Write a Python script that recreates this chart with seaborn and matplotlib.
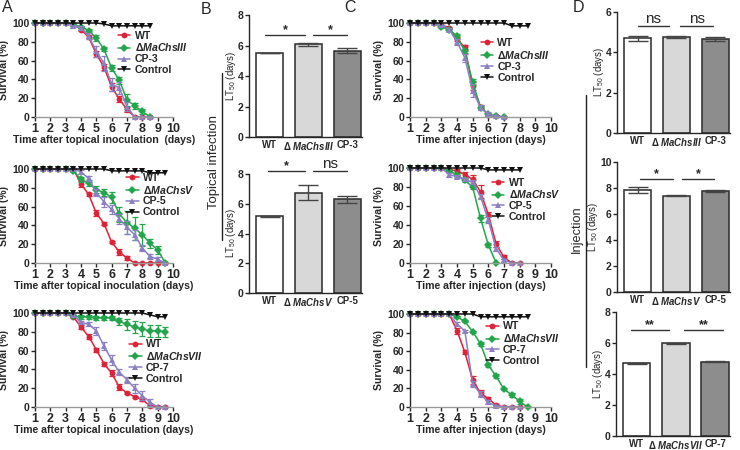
import numpy as np
import pandas as pd
import matplotlib
matplotlib.use("Agg")
import matplotlib.pyplot as plt
from matplotlib.lines import Line2D
import seaborn as sns

# ---- survival data (percent), one value every half day from day 1 ----
t_topical = [1.0, 1.5, 2.0, 2.5, 3.0, 3.5, 4.0, 4.5, 5.0, 5.5, 6.0, 6.5, 7.0, 7.5, 8.0, 8.5, 9.0, 9.5]
t_inject = [1.0, 1.5, 2.0, 2.5, 3.0, 3.5, 4.0, 4.5, 5.0, 5.5, 6.0, 6.5, 7.0, 7.5, 8.0, 8.5]

# topical, ChsIII
a1_wt = [100, 100, 100, 100, 100, 99, 93, 85, 67, 53, 32, 19, 8, 0, 0, 0]
a1_mut = [100, 100, 100, 100, 100, 98, 96, 92, 84, 72, 52, 39, 18, 12, 6, 0]
a1_cp = [100, 100, 100, 100, 100, 97, 95, 86, 70, 57, 35, 31, 11, 0, 0, 0]
a1_ctrl = [100, 100, 100, 100, 100, 100, 100, 100, 100, 99, 97, 97, 97, 97, 97, 97]
a1_wt_se = [0, 0, 0, 0, 0, 1, 2, 2, 3, 3, 4, 3, 3, 0, 0, 0]
a1_mut_se = [0, 0, 0, 0, 0, 1, 1, 2, 3, 2, 3, 4, 6, 3, 3, 0]
a1_cp_se = [0, 0, 0, 0, 0, 1, 2, 3, 6, 8, 7, 6, 5, 0, 0, 0]

# topical, ChsV
a2_wt = [100, 100, 100, 100, 100, 100, 84, 73, 53, 42, 22, 12, 5, 0, 0, 0, 0, 0]
a2_mut = [100, 100, 100, 100, 100, 98, 89, 85, 78, 75, 70, 52, 43, 37, 30, 21, 14, 0]
a2_cp = [100, 100, 100, 100, 100, 100, 97, 90, 75, 65, 57, 47, 38, 30, 16, 7, 4, 0]
a2_ctrl = [100, 100, 100, 100, 100, 100, 100, 100, 100, 100, 98, 98, 98, 98, 98, 96, 96, 96]
a2_wt_se = [0, 0, 0, 0, 0, 0, 3, 2, 3, 2, 1, 3, 2, 0, 0, 0, 0, 0]
a2_mut_se = [0, 0, 0, 0, 0, 1, 3, 3, 4, 4, 6, 8, 12, 12, 12, 5, 4, 0]
a2_cp_se = [0, 0, 0, 0, 0, 1, 2, 3, 4, 5, 5, 5, 7, 5, 3, 3, 2, 0]

# topical, ChsVII
a3_wt = [100, 100, 100, 100, 100, 96, 85, 75, 61, 46, 36, 21, 15, 11, 8, 1, 0, 0]
a3_mut = [100, 100, 100, 100, 100, 97, 96, 96, 95, 95, 95, 91, 88, 85, 83, 81, 81, 80]
a3_cp = [100, 100, 100, 100, 100, 98, 90, 88, 81, 65, 50, 37, 29, 20, 12, 5, 0, 0]
a3_ctrl = [100, 100, 100, 100, 100, 100, 100, 100, 100, 100, 100, 100, 100, 100, 100, 98, 96, 96]
a3_wt_se = [0, 0, 0, 0, 0, 1, 2, 3, 2, 2, 3, 3, 1, 1, 2, 1, 0, 0]
a3_mut_se = [0, 0, 0, 0, 0, 1, 2, 2, 2, 2, 2, 4, 6, 6, 7, 6, 6, 5]
a3_cp_se = [0, 0, 0, 0, 0, 1, 2, 2, 4, 4, 5, 3, 3, 5, 5, 4, 0, 0]

# injection, ChsIII
c1_wt = [100, 100, 100, 100, 98, 95, 83, 74, 33, 11, 2, 1, 0]
c1_mut = [100, 100, 100, 100, 96, 93, 86, 70, 37, 10, 3, 1, 0]
c1_cp = [100, 100, 100, 100, 98, 93, 80, 63, 28, 10, 3, 1, 0]
c1_ctrl = [100, 100, 100, 100, 100, 100, 100, 100, 100, 100, 100, 100, 100, 97, 97, 97]
c1_wt_se = [0, 0, 0, 0, 0, 1, 2, 3, 4, 2, 1, 0, 0]
c1_mut_se = [0, 0, 0, 0, 1, 2, 2, 2, 3, 2, 1, 0, 0]
c1_cp_se = [0, 0, 0, 0, 0, 2, 3, 4, 7, 3, 2, 0, 0]

# injection, ChsV
c2_wt = [100, 100, 100, 100, 100, 98, 97, 93, 88, 75, 51, 20, 6, 0, 0]
c2_mut = [100, 100, 100, 100, 100, 97, 93, 87, 80, 47, 19, 0]
c2_cp = [100, 100, 100, 100, 100, 93, 91, 88, 85, 70, 45, 15, 3, 0, 0]
c2_ctrl = [100, 100, 100, 100, 100, 100, 100, 100, 100, 100, 98, 98, 98, 98, 98]
c2_wt_se = [0, 0, 0, 0, 0, 1, 2, 3, 5, 7, 3, 3, 2, 0, 0]
c2_mut_se = [0, 0, 0, 0, 0, 1, 2, 2, 2, 4, 2, 0]
c2_cp_se = [0, 0, 0, 0, 0, 2, 2, 2, 2, 3, 3, 2, 1, 0, 0]

# injection, ChsVII
c3_wt = [100, 100, 100, 100, 100, 100, 82, 59, 29, 15, 9, 2, 0, 0, 0]
c3_mut = [100, 100, 100, 100, 100, 100, 97, 92, 81, 68, 45, 33, 19, 13, 6, 0]
c3_cp = [100, 100, 100, 100, 100, 100, 89, 82, 25, 14, 5, 1, 0, 0, 0]
c3_ctrl = [100, 100, 100, 100, 100, 100, 100, 100, 100, 97, 97, 97, 97, 97, 97, 97]
c3_wt_se = [0, 0, 0, 0, 0, 0, 3, 2, 4, 3, 2, 1, 0, 0, 0]
c3_mut_se = [0, 0, 0, 0, 0, 0, 1, 1, 1, 2, 2, 2, 1, 2, 3, 0]
c3_cp_se = [0, 0, 0, 0, 0, 0, 2, 1, 3, 3, 2, 1, 0, 0, 0]

# ---- LT50 (days) ----
lt_topical_III = [5.5, 6.07, 5.67]
lt_topical_III_se = [0.02, 0.08, 0.15]
lt_topical_V = [5.15, 6.75, 6.3]
lt_topical_V_se = [0.06, 0.5, 0.25]
lt_inject_III = [4.7, 4.78, 4.66]
lt_inject_III_se = [0.13, 0.05, 0.08]
lt_inject_V = [7.85, 7.42, 7.8]
lt_inject_V_se = [0.2, 0.03, 0.08]
lt_inject_VII = [4.68, 5.97, 4.8]
lt_inject_VII_se = [0.05, 0.01, 0.02]

# ---- style ----
sns.set_theme(style="ticks")
plt.rcParams["font.family"] = ["Liberation Sans", "DejaVu Sans"]
plt.rcParams["font.weight"] = "bold"
plt.rcParams["axes.labelweight"] = "bold"
plt.rcParams["mathtext.fontset"] = "custom"
plt.rcParams["mathtext.it"] = "Liberation Sans:italic:bold"
plt.rcParams["mathtext.rm"] = "Liberation Sans:bold"
plt.rcParams["axes.linewidth"] = 1.0
plt.rcParams["xtick.major.size"] = 3
plt.rcParams["ytick.major.size"] = 3

RED, GREEN, PURPLE, BLACK = "#dc2338", "#23a64b", "#8c7fc2", "#111111"
BAR_COLORS = ["#ffffff", "#d8d8d8", "#8d8d8d"]

W, H = 740, 450
fig = plt.figure(figsize=(W / 100, H / 100), dpi=100)


def rect(l, r, t, b):
    return [l / W, 1 - b / H, (r - l) / W, (b - t) / H]


def mut(gene):
    return "Δ$\\mathit{MaChs" + gene + "}$"


def survival(box, t, series, xlabel, leg_xy):
    ax = fig.add_axes(rect(*box))
    for lab, vals, se, col, mk in series:
        x = t[:len(vals)]
        sns.lineplot(x=x, y=vals, ax=ax, color=col, marker=mk, markersize=4.2,
                     markeredgewidth=0, linewidth=1.1, label=lab, clip_on=False,
                     errorbar=None)
        if se is not None:
            ax.errorbar(x, vals, yerr=se, fmt="none", ecolor=col, elinewidth=0.9,
                        capsize=2, capthick=0.9, clip_on=False)
    ax.set_xlim(1, 10)
    ax.set_ylim(0, 100)
    ax.set_xticks(range(1, 11))
    ax.set_yticks(range(0, 101, 20))
    ax.tick_params(axis="x", labelsize=9, pad=1, width=1)
    ax.tick_params(axis="y", labelsize=7.5, pad=1, width=1)
    ax.set_xlabel(xlabel, fontsize=7.6, labelpad=0)
    ax.set_ylabel("Survival (%)", fontsize=7.6, labelpad=2)
    sns.despine(ax=ax)
    ax.spines["bottom"].set_color("#9a9a9a")
    ax.legend(loc="upper left", bbox_to_anchor=leg_xy, frameon=False, fontsize=7.6,
              handlelength=1.2, handletextpad=0.4, labelspacing=0.08,
              borderpad=0, borderaxespad=0)
    return ax


def lt50(box, gene, vals, se, ymax, ystep, sigs):
    ax = fig.add_axes(rect(*box))
    cp = "CP-" + {"III": "3", "V": "5", "VII": "7"}[gene]
    labels = ["WT", "Δ $\\mathit{MaChs" + gene + "}$", cp]
    sns.barplot(x=labels, y=vals, hue=labels, palette=BAR_COLORS, legend=False,
                edgecolor="#2a2a2a", linewidth=1.1, width=0.7, ax=ax)
    ax.errorbar(range(3), vals, yerr=se, fmt="none", ecolor="#444444", elinewidth=1,
                capsize=7, capthick=1)
    ax.set_xlim(-0.53, 2.38)
    ax.set_ylim(0, ymax)
    ax.set_yticks(np.arange(0, ymax + 0.1, ystep))
    ax.tick_params(axis="x", labelsize=6.9, pad=2, length=0)
    ax.tick_params(axis="y", labelsize=7.5, pad=1, width=1)
    ax.set_ylabel("LT$\\mathregular{_{50}}$ (days)", fontsize=6.9, fontweight="normal", labelpad=0)
    ax.set_xlabel("")
    sns.despine(ax=ax)
    for x0, x1, y, txt in sigs:
        ax.plot([x0, x1], [y, y], color="#333333", lw=1, clip_on=False)
        if txt == "ns":
            ax.text((x0 + x1) / 2, y, txt, ha="center", va="bottom", fontsize=11,
                    fontweight="normal")
        else:
            ax.text((x0 + x1) / 2, y - ymax * 0.01, txt, ha="center", va="bottom",
                    fontsize=9, fontweight="bold")
    return ax


def leg(g):
    return ["WT", mut(g), "CP-" + {"III": "3", "V": "5", "VII": "7"}[g], "Control"]


# ---- A: topical survival ----
l = leg("III")
survival((35, 173, 23, 117), t_topical,
         [(l[0], a1_wt, a1_wt_se, RED, "o"), (l[1], a1_mut, a1_mut_se, GREEN, "D"),
          (l[2], a1_cp, a1_cp_se, PURPLE, "^"), (l[3], a1_ctrl, None, BLACK, "v")],
         "Time after topical inoculation  (days)", (0.6, 0.92))
l = leg("V")
survival((35, 173, 169, 263), t_topical,
         [(l[0], a2_wt, a2_wt_se, RED, "o"), (l[1], a2_mut, a2_mut_se, GREEN, "D"),
          (l[2], a2_cp, a2_cp_se, PURPLE, "^"), (l[3], a2_ctrl, None, BLACK, "v")],
         "Time after topical inoculation (days)", (0.66, 0.96))
l = leg("VII")
survival((35, 173, 313, 407), t_topical,
         [(l[0], a3_wt, a3_wt_se, RED, "o"), (l[1], a3_mut, a3_mut_se, GREEN, "D"),
          (l[2], a3_cp, a3_cp_se, PURPLE, "^"), (l[3], a3_ctrl, None, BLACK, "v")],
         "Time after topical inoculation (days)", (0.68, 0.72))

# ---- C: injection survival ----
l = leg("III")
survival((410, 551, 23, 117), t_inject,
         [(l[0], c1_wt, c1_wt_se, RED, "o"), (l[1], c1_mut, c1_mut_se, GREEN, "D"),
          (l[2], c1_cp, c1_cp_se, PURPLE, "^"), (l[3], c1_ctrl, None, BLACK, "v")],
         "Time after injection (days)", (0.5, 0.84))
l = leg("V")
survival((410, 551, 168, 263), t_inject,
         [(l[0], c2_wt, c2_wt_se, RED, "o"), (l[1], c2_mut, c2_mut_se, GREEN, "D"),
          (l[2], c2_cp, c2_cp_se, PURPLE, "^"), (l[3], c2_ctrl, None, BLACK, "v")],
         "Time after injection (days)", (0.58, 0.9))
l = leg("VII")
survival((410, 551, 314, 407), t_inject,
         [(l[0], c3_wt, c3_wt_se, RED, "o"), (l[1], c3_mut, c3_mut_se, GREEN, "D"),
          (l[2], c3_cp, c3_cp_se, PURPLE, "^"), (l[3], c3_ctrl, None, BLACK, "v")],
         "Time after injection (days)", (0.54, 0.92))

# ---- B: topical LT50 ----
lt50((249, 362, 15, 137), "III", lt_topical_III, lt_topical_III_se, 8, 2,
     [(-0.12, 0.92, 6.7, "*"), (1.12, 2.0, 6.7, "*")])
lt50((249, 362, 174, 293), "V", lt_topical_V, lt_topical_V_se, 8, 2,
     [(-0.05, 0.92, 8.2, "*"), (1.12, 2.0, 8.2, "ns")])

# ---- D: injection LT50 ----
lt50((617, 730, 12, 133), "III", lt_inject_III, lt_inject_III_se, 6, 2,
     [(0.0, 0.82, 5.3, "ns"), (1.1, 1.95, 5.3, "ns")])
lt50((617, 730, 162, 292), "V", lt_inject_V, lt_inject_V_se, 10, 2,
     [(0.05, 0.9, 8.7, "*"), (1.15, 1.97, 8.7, "*")])
lt50((616, 730, 312, 436), "VII", lt_inject_VII, lt_inject_VII_se, 8, 2,
     [(-0.15, 0.82, 6.84, "**"), (1.2, 2.2, 6.84, "**")])

# ---- group labels and panel letters ----
fig.text(214 / W, 1 - 162 / H, "Topical infection", rotation=90, ha="center",
         va="center", fontsize=9.5, fontweight="normal")
fig.add_artist(Line2D([222 / W, 222 / W], [1 - 73 / H, 1 - 240 / H], color="#222222", lw=1))
fig.text(577 / W, 1 - 229 / H, "Injection", rotation=90, ha="center",
         va="center", fontsize=9.2, fontweight="normal")
fig.add_artist(Line2D([586 / W, 586 / W], [1 - 95 / H, 1 - 367 / H], color="#222222", lw=1))

for txt, x, y in [("A", 2, 8), ("B", 201, 10), ("C", 344, 7), ("D", 573, 7)]:
    fig.text(x / W, 1 - y / H, txt, ha="left", va="center", fontsize=11.5, fontweight="normal")

fig.savefig("out.png", dpi=100)
